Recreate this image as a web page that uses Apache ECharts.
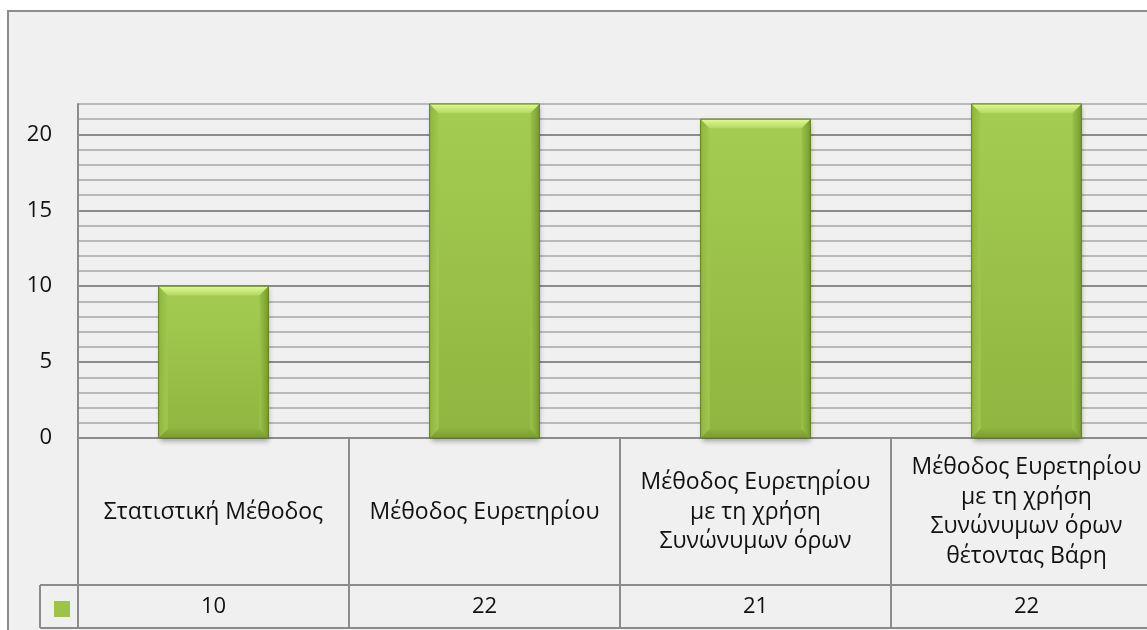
<!DOCTYPE html>
<html>
<head>
<meta charset="utf-8">
<script src="https://cdn.jsdelivr.net/npm/echarts@6/dist/echarts.min.js"></script>
<style>
  html, body { margin: 0; background: #fff; overflow: hidden; }
  #frame { position: absolute; left: 7px; top: 10px; width: 1170px; height: 640px;
           border: 2px solid #8c8c8c; background: #f0f0f0; }
  /* wider than the window: the original chart is cut off at the right edge */
  #chart { position: absolute; left: 0; top: 0; width: 1180px; height: 630px; }
</style>
</head>
<body>
<div id="frame"></div>
<div id="chart"></div>
<script>
// data
const categories = [
  'Στατιστική Μέθοδος',
  'Μέθοδος Ευρετηρίου',
  'Μέθοδος Ευρετηρίου\nμε τη χρήση\nΣυνώνυμων όρων',
  'Μέθοδος Ευρετηρίου\nμε τη χρήση\nΣυνώνυμων όρων\nθέτοντας Βάρη'
];
const values = [10, 22, 21, 22];
const yTicks = [0, 5, 10, 15, 20];

const FONT = '"Open Sans", sans-serif';
const GRID_COL = '#8c8c8c';

const chart = echarts.init(document.getElementById('chart'), null, { renderer: 'canvas' });

// bevelled green bar, like the office chart style
function renderBar(params, api) {
  const idx = api.value(0);
  const top = api.coord([idx, api.value(1)]);
  const base = api.coord([idx, 0]);
  const w = api.size([1, 0])[0] * 0.405;
  const x = top[0] - w / 2, y = top[1], h = base[1] - top[1];
  const b = 9;
  return {
    type: 'group',
    children: [
      { type: 'rect', shape: { x: x, y: y, width: w, height: h },
        style: {
          fill: new echarts.graphic.LinearGradient(0, 0, 0, 1, [
            { offset: 0, color: '#a5cc52' }, { offset: 1, color: '#90b540' }]),
          shadowBlur: 5, shadowOffsetY: 3, shadowOffsetX: 1, shadowColor: 'rgba(0,0,0,0.35)'
        } },
      { type: 'polygon', shape: { points: [[x, y], [x + b, y + b], [x + b, y + h - b], [x, y + h]] },
        style: { fill: new echarts.graphic.LinearGradient(0, 0, 1, 0, [
          { offset: 0, color: '#8fb540' }, { offset: 1, color: '#a0c84e' }]) } },
      { type: 'polygon', shape: { points: [[x + w, y], [x + w, y + h], [x + w - b, y + h - b], [x + w - b, y + b]] },
        style: { fill: new echarts.graphic.LinearGradient(0, 0, 1, 0, [
          { offset: 0, color: '#9cc34a' }, { offset: 1, color: '#779a30' }]) } },
      { type: 'polygon', shape: { points: [[x, y + h], [x + b, y + h - b], [x + w - b, y + h - b], [x + w, y + h]] },
        style: { fill: new echarts.graphic.LinearGradient(0, 0, 0, 1, [
          { offset: 0, color: '#8db23e' }, { offset: 1, color: '#7a9c31' }]) } },
      { type: 'polygon', shape: { points: [[x, y], [x + w, y], [x + w - b, y + b], [x + b, y + b]] },
        style: { fill: new echarts.graphic.LinearGradient(0, 0, 0, 1, [
          { offset: 0, color: '#e0fa94' }, { offset: 1, color: '#b4d962' }]) } },
      { type: 'rect', shape: { x: x, y: y, width: w, height: h },
        style: { fill: 'none', stroke: '#5f7f24', lineWidth: 1 } }
    ]
  };
}

const option = {
  animation: false,
  backgroundColor: 'transparent',
  textStyle: { fontFamily: FONT },
  grid: { left: 78, top: 104, width: 1084, height: 334, containLabel: false },
  legend: {
    left: 49, top: 596, itemWidth: 16, itemHeight: 16, itemGap: 0,
    icon: 'rect', formatter: () => '', data: ['Τιμή']
  },
  xAxis: [
    {
      type: 'category', data: categories, position: 'bottom',
      axisLine: { show: true, lineStyle: { color: GRID_COL, width: 2 } },
      axisTick: { show: true, length: 147, alignWithLabel: false, lineStyle: { color: GRID_COL, width: 2 } },
      axisLabel: { color: '#111', fontSize: 23, fontFamily: FONT, margin: 74,
        verticalAlign: 'middle', lineHeight: 29.5, align: 'center', interval: 0 }
    },
    {
      type: 'category', data: values.map(String), position: 'bottom', offset: 147,
      axisLine: { show: true, lineStyle: { color: GRID_COL, width: 2 } },
      axisTick: { show: true, length: 43, alignWithLabel: false, lineStyle: { color: GRID_COL, width: 2 } },
      axisLabel: { color: '#111', fontSize: 22, fontFamily: FONT, margin: 22,
        verticalAlign: 'middle', interval: 0 }
    }
  ],
  yAxis: {
    type: 'value', min: 0, max: 22, interval: 1,
    axisLine: { show: true, lineStyle: { color: GRID_COL, width: 2 } },
    axisTick: { show: false },
    axisLabel: { color: '#111', fontSize: 22, fontFamily: FONT, margin: 26,
      formatter: v => (yTicks.indexOf(v) >= 0 ? String(v) : '') },
    splitLine: { show: true, lineStyle: {
      color: ['#8c8c8c', '#b9b9b9', '#b9b9b9', '#b9b9b9', '#b9b9b9'], width: 2 } }
  },
  series: [{
    name: 'Τιμή', type: 'custom', renderItem: renderBar,
    itemStyle: { color: '#9cc44a' },
    encode: { x: 0, y: 1 },
    data: values.map((v, i) => [i, v])
  }],
  graphic: [
    { type: 'line', shape: { x1: 40, y1: 585, x2: 78, y2: 585 }, style: { stroke: GRID_COL, lineWidth: 2 } },
    { type: 'line', shape: { x1: 40, y1: 585, x2: 40, y2: 628 }, style: { stroke: GRID_COL, lineWidth: 2 } },
    { type: 'line', shape: { x1: 40, y1: 628, x2: 1180, y2: 628 }, style: { stroke: GRID_COL, lineWidth: 2 } }
  ]
};

chart.setOption(option);
</script>
</body>
</html>
